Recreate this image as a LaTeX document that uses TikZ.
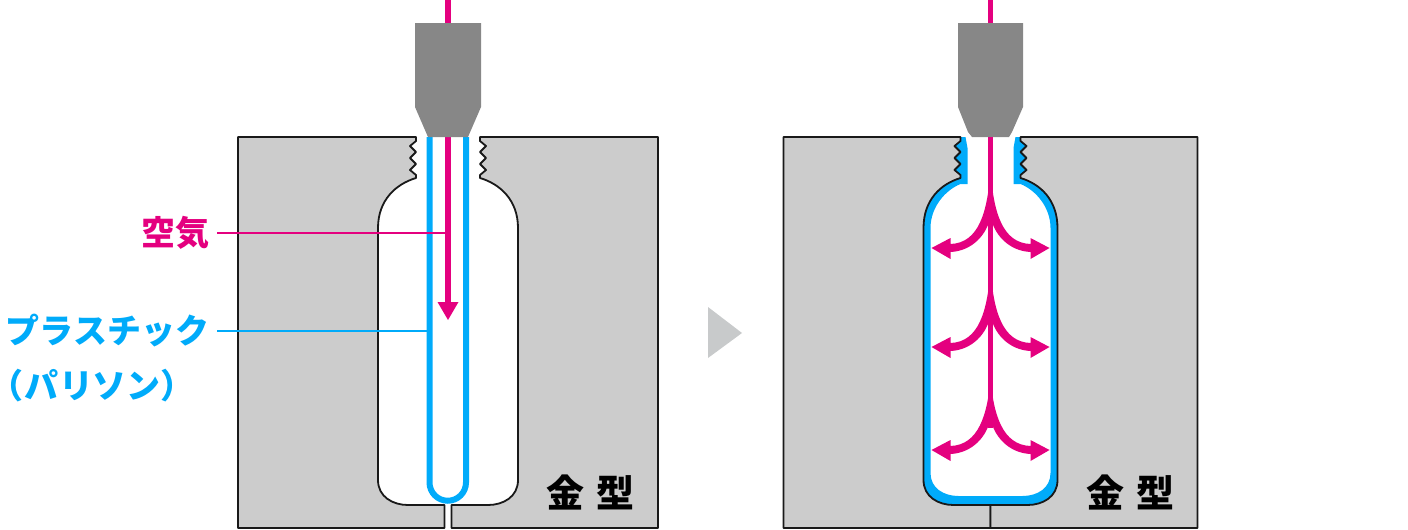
\documentclass[tikz,border=0pt]{standalone}
\usepackage{fontspec}
\newfontfamily\jpfont{Noto Sans CJK JP}
\newfontfamily\jppalt{Noto Sans CJK JP}[RawFeature=+palt,LetterSpace=9]
\definecolor{airpink}{HTML}{E4007F}
\definecolor{plasticblue}{HTML}{00ABFA}
\definecolor{nextgray}{HTML}{C8CACB}
\tikzset{
  moldline/.style={draw=black!90,line width=1.8pt,fill=black!20,line join=round},
  nozzle/.style={fill=black!47},
  airline/.style={draw=airpink,line width=5.5pt},
  plastic/.style={draw=plasticblue,line width=6pt},
  labeltext/.style={font=\jpfont\bfseries\fontsize{34}{34}\selectfont,inner sep=0pt},
  moldtext/.style={font=\jpfont\bfseries\fontsize{38}{38}\selectfont,inner sep=0pt},
}
\begin{document}
\begin{tikzpicture}[x=1pt,y=-1pt]
  \useasboundingbox (0,0) rectangle (1408,530);

  \foreach \sx in {-1,1} {
    \begin{scope}[shift={(990.5,0)},xscale=\sx]
      \fill[plasticblue] (25,137) -- (23,148) -- (23,184) -- (30,184)
        .. controls (45,190) and (60,207) .. (60,228) -- (60,473)
        .. controls (60,488) and (47,496) .. (32,496) -- (-1,496)
        -- (-1,510) -- (80,510) -- (80,137) -- cycle;
    \end{scope}
  }

  \foreach \cx/\mw/\nk/\bw/\gp in {448/210/32/70/3.5,990.5/207/30/67/0}
    \foreach \sx in {-1,1} {
      \begin{scope}[shift={(\cx,0)},xscale=\sx]
        \draw[moldline] (\mw,137) -- (\nk,137) -- (\nk,141)
          -- (\nk+6,146) -- (\nk,152) -- (\nk+6,158) -- (\nk,164) -- (\nk+6,170) -- (\nk,175) -- (\nk,178)
          .. controls (\nk+20,184) and (\bw,200) .. (\bw,228) -- (\bw,480)
          .. controls (\bw,497) and (\bw-15,505) .. (\bw-30,505)
          -- (\gp,505) -- (\gp,528) -- (\mw,528) -- cycle;
      \end{scope}
    }

  \coordinate (plasticend) at (429,331);
  \coordinate (airend) at (448,233);

  \draw[plastic] (429.5,137) -- (429.5,482.5) arc[start angle=180,end angle=0,radius=18.25] -- (466,137);
  \draw[airline] (448,0) -- (448,303);
  \fill[airpink] (437.5,302) -- (458.5,302) -- (448,320) -- cycle;

  \fill[nozzle] (415,23) -- (481,23) -- (481,107) -- (468,137) -- (428,137) -- (415,107) -- cycle;
  \fill[nozzle] (958,23) -- (1023,23) -- (1023,107) -- (1012,132) -- (1009,137) -- (972,137) -- (968,132) -- (958,107) -- cycle;

  \draw[airline,line width=5pt] (990.5,0) -- (990.5,23);
  \draw[airline,line width=5pt] (990.5,137) -- (990.5,428);
  \foreach \ty/\tl in {248/78,347/78,450/72}
    \foreach \sx in {-1,1} {
      \begin{scope}[shift={(990.5,\ty)},xscale=\sx]
        \fill[airpink] (0,-\tl) .. controls (3,-35) and (12,-5) .. (40,-4)
          -- (40,-10) -- (59,0) -- (40,11) -- (40,4)
          .. controls (18,3) and (3,-14) .. (0,-32) -- cycle;
      \end{scope}
    }

  \node[labeltext,anchor=east,outer sep=8pt,text=airpink] (air) at (217,233) {空気};
  \node[labeltext,anchor=east,outer sep=8pt,text=plasticblue] (plastic) at (217,331) {プラスチック};
  \node[labeltext,anchor=west,text=plasticblue] (parison) at (4.5,385.5) {\jppalt\bfseries（パリソン）};
  \draw[draw=airpink,line width=2pt] (air.east) -- (airend);
  \draw[draw=plasticblue,line width=2pt] (plastic.east) -- (plasticend);

  \node[moldtext] (moldA) at (590.5,492) {\spaceskip=12pt\relax 金 型};
  \node[moldtext] (moldB) at (1130.5,492) {\spaceskip=12pt\relax 金 型};

  \fill[nextgray] (708,307) -- (742,333) -- (708,358) -- cycle;
\end{tikzpicture}
\end{document}
